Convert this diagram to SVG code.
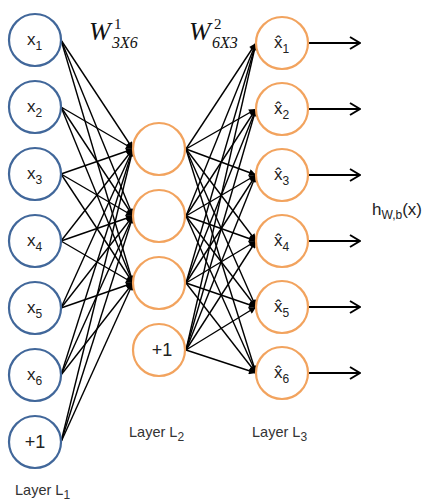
<svg xmlns="http://www.w3.org/2000/svg" width="434" height="504" viewBox="0 0 434 504">
<style>
.in{fill:#fff;stroke:#41679A;stroke-width:2.2}
.hd{fill:#fff;stroke:#F2A35E;stroke-width:2.2}
.t{font-family:"Liberation Sans",Arial,sans-serif;font-size:17px;fill:#222}
.s{font-size:12px}
.w{font-family:"Liberation Serif","Times New Roman",serif;font-style:italic;fill:#111}
.lab{font-family:"Liberation Sans",Arial,sans-serif;font-size:14.5px;fill:#333}
#connectors line{stroke:#000;stroke-width:1.4}
.e{marker-end:url(#ah)}
.o{marker-end:url(#oa);stroke-width:1.8!important}
</style>
<defs>
<marker id="ah" viewBox="0 0 10 10" refX="10" refY="5" markerWidth="9" markerHeight="7" markerUnits="userSpaceOnUse" orient="auto"><path d="M0,0 L10,5 L0,10 z" fill="#000"/></marker>
<marker id="oa" viewBox="0 0 12 14" refX="11" refY="7" markerWidth="12" markerHeight="14" markerUnits="userSpaceOnUse" orient="auto"><path d="M1,1 L11,7 L1,13" fill="none" stroke="#000" stroke-width="2"/></marker>
</defs>
<rect width="434" height="504" fill="#fff"/>
<g id="connectors">
<line class="e" x1="61" y1="40" x2="133" y2="149"/><line class="e" x1="61" y1="40" x2="133" y2="216"/><line class="e" x1="61" y1="40" x2="133" y2="283"/>
<line class="e" x1="61" y1="107" x2="133" y2="149"/><line class="e" x1="61" y1="107" x2="133" y2="216"/><line class="e" x1="61" y1="107" x2="133" y2="283"/>
<line class="e" x1="61" y1="174" x2="133" y2="149"/><line class="e" x1="61" y1="174" x2="133" y2="216"/><line class="e" x1="61" y1="174" x2="133" y2="283"/>
<line class="e" x1="61" y1="241" x2="133" y2="149"/><line class="e" x1="61" y1="241" x2="133" y2="216"/><line class="e" x1="61" y1="241" x2="133" y2="283"/>
<line class="e" x1="61" y1="308" x2="133" y2="149"/><line class="e" x1="61" y1="308" x2="133" y2="216"/><line class="e" x1="61" y1="308" x2="133" y2="283"/>
<line class="e" x1="61" y1="375" x2="133" y2="149"/><line class="e" x1="61" y1="375" x2="133" y2="216"/><line class="e" x1="61" y1="375" x2="133" y2="283"/>
<line class="e" x1="61" y1="442" x2="133" y2="149"/><line class="e" x1="61" y1="442" x2="133" y2="216"/><line class="e" x1="61" y1="442" x2="133" y2="283"/>
<line class="e" x1="186" y1="149" x2="256" y2="43"/><line class="e" x1="186" y1="149" x2="256" y2="109"/><line class="e" x1="186" y1="149" x2="256" y2="175"/><line class="e" x1="186" y1="149" x2="256" y2="241"/><line class="e" x1="186" y1="149" x2="256" y2="307"/><line class="e" x1="186" y1="149" x2="256" y2="373"/>
<line class="e" x1="186" y1="216" x2="256" y2="43"/><line class="e" x1="186" y1="216" x2="256" y2="109"/><line class="e" x1="186" y1="216" x2="256" y2="175"/><line class="e" x1="186" y1="216" x2="256" y2="241"/><line class="e" x1="186" y1="216" x2="256" y2="307"/><line class="e" x1="186" y1="216" x2="256" y2="373"/>
<line class="e" x1="186" y1="283" x2="256" y2="43"/><line class="e" x1="186" y1="283" x2="256" y2="109"/><line class="e" x1="186" y1="283" x2="256" y2="175"/><line class="e" x1="186" y1="283" x2="256" y2="241"/><line class="e" x1="186" y1="283" x2="256" y2="307"/><line class="e" x1="186" y1="283" x2="256" y2="373"/>
<line class="e" x1="186" y1="350" x2="256" y2="43"/><line class="e" x1="186" y1="350" x2="256" y2="109"/><line class="e" x1="186" y1="350" x2="256" y2="175"/><line class="e" x1="186" y1="350" x2="256" y2="241"/><line class="e" x1="186" y1="350" x2="256" y2="307"/><line class="e" x1="186" y1="350" x2="256" y2="373"/>
<line class="o" x1="308" y1="43" x2="360" y2="43"/><line class="o" x1="308" y1="109" x2="360" y2="109"/><line class="o" x1="308" y1="175" x2="360" y2="175"/><line class="o" x1="308" y1="241" x2="360" y2="241"/><line class="o" x1="308" y1="307" x2="360" y2="307"/><line class="o" x1="308" y1="373" x2="360" y2="373"/>
</g>
<g id="in1"><circle class="in" cx="35" cy="40" r="26"/><text class="t" x="27" y="45">x<tspan class="s" dy="5">1</tspan></text></g>
<g id="in2"><circle class="in" cx="35" cy="107" r="26"/><text class="t" x="27" y="112">x<tspan class="s" dy="5">2</tspan></text></g>
<g id="in3"><circle class="in" cx="35" cy="174" r="26"/><text class="t" x="27" y="179">x<tspan class="s" dy="5">3</tspan></text></g>
<g id="in4"><circle class="in" cx="35" cy="241" r="26"/><text class="t" x="27" y="246">x<tspan class="s" dy="5">4</tspan></text></g>
<g id="in5"><circle class="in" cx="35" cy="308" r="26"/><text class="t" x="27" y="313">x<tspan class="s" dy="5">5</tspan></text></g>
<g id="in6"><circle class="in" cx="35" cy="375" r="26"/><text class="t" x="27" y="380">x<tspan class="s" dy="5">6</tspan></text></g>
<g id="inb"><circle class="in" cx="35" cy="442" r="26"/><text class="t" x="35" y="448" text-anchor="middle" style="font-size:18px">+1</text></g>
<g id="h1"><circle class="hd" cx="159" cy="149" r="26"/></g>
<g id="h2"><circle class="hd" cx="159" cy="216" r="26"/></g>
<g id="h3"><circle class="hd" cx="159" cy="283" r="26"/></g>
<g id="hb"><circle class="hd" cx="159" cy="350" r="26"/><text class="t" x="162" y="356" text-anchor="middle" style="font-size:18px">+1</text></g>
<g id="o1"><circle class="hd" cx="282" cy="43" r="26"/><text class="t" x="274" y="48">x̂<tspan class="s" dy="5">1</tspan></text></g>
<g id="o2"><circle class="hd" cx="282" cy="109" r="26"/><text class="t" x="274" y="114">x̂<tspan class="s" dy="5">2</tspan></text></g>
<g id="o3"><circle class="hd" cx="282" cy="175" r="26"/><text class="t" x="274" y="180">x̂<tspan class="s" dy="5">3</tspan></text></g>
<g id="o4"><circle class="hd" cx="282" cy="241" r="26"/><text class="t" x="274" y="246">x̂<tspan class="s" dy="5">4</tspan></text></g>
<g id="o5"><circle class="hd" cx="282" cy="307" r="26"/><text class="t" x="274" y="312">x̂<tspan class="s" dy="5">5</tspan></text></g>
<g id="o6"><circle class="hd" cx="282" cy="373" r="26"/><text class="t" x="274" y="378">x̂<tspan class="s" dy="5">6</tspan></text></g>
<text class="w" x="89" y="40" style="font-size:26px">W</text>
<text class="w" x="114" y="29" style="font-size:15px;font-style:normal">1</text>
<text class="w" x="112" y="48" style="font-size:16px">3X6</text>
<text class="w" x="189" y="40" style="font-size:26px">W</text>
<text class="w" x="214" y="29" style="font-size:15px;font-style:normal">2</text>
<text class="w" x="212" y="48" style="font-size:16px">6X3</text>
<text class="t" x="372" y="215" style="font-size:17px">h<tspan class="s" dy="4">W,b</tspan><tspan dy="-4">(x)</tspan></text>
<text class="lab" x="15" y="495">Layer L<tspan class="s" dy="4">1</tspan></text>
<text class="lab" x="129" y="437">Layer L<tspan class="s" dy="4">2</tspan></text>
<text class="lab" x="252" y="437">Layer L<tspan class="s" dy="4">3</tspan></text>
</svg>
